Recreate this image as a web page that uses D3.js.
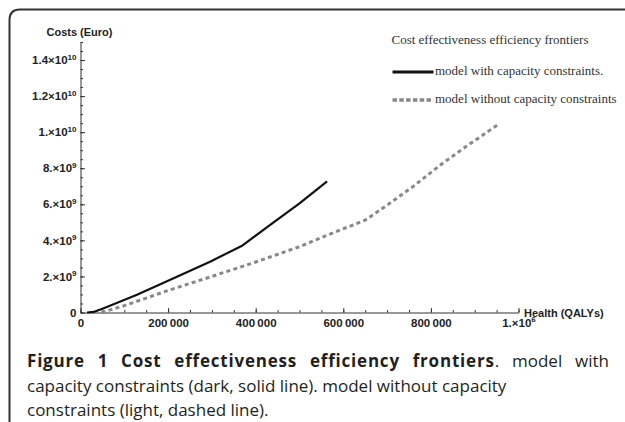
<!DOCTYPE html>
<html>
<head>
<meta charset="utf-8">
<script src="https://cdn.jsdelivr.net/npm/d3@7"></script>
<style>
  html, body { margin: 0; padding: 0; background: #fff; }
  svg { display: block; }
  .tick text { font-family: "Liberation Sans", Arial, sans-serif; font-weight: bold; font-size: 11.5px; fill: #222; }
  .axis path, .axis line { stroke: #333; }
</style>
</head>
<body>
<svg id="chart" width="625" height="422"></svg>
<script>
// health (QALYs) vs costs (Euro)
const withCapHealth = [15000, 30000, 53000, 129000, 205000, 297000, 370000, 430000, 500000, 563000];
const withCapCost = [0, 0.03e9, 0.24e9, 0.98e9, 1.81e9, 2.83e9, 3.72e9, 4.8e9, 6.05e9, 7.27e9];

const withoutCapHealth = [48000, 100000, 200000, 300000, 400000, 500000, 580000, 650000, 700000, 760000, 820000, 880000, 955000];
const withoutCapCost = [0, 0.38e9, 1.22e9, 2.0e9, 2.8e9, 3.65e9, 4.45e9, 5.12e9, 5.95e9, 7.0e9, 8.15e9, 9.2e9, 10.45e9];

const xMajorTicks = [0, 200000, 400000, 600000, 800000, 1000000];
const yMajorTicks = [0, 2e9, 4e9, 6e9, 8e9, 1e10, 1.2e10, 1.4e10];
const xMinorStep = 50000;
const yMinorStep = 5e8;

const legendTitle = "Cost effectiveness efficiency frontiers";
const seriesNames = ["model with capacity constraints.", "model without capacity constraints"];
const yTitle = "Costs (Euro)";
const xTitle = "Health (QALYs)";

// caption: words are lists of [text, bold]
const captionLine1 = [
  [["Figure", 1]], [["1", 1]], [["Cost", 1]], [["effectiveness", 1]], [["efficiency", 1]],
  [["frontiers", 1], [".", 0]], [["model", 0]], [["with", 0]]
];
const captionLine2 = "capacity constraints (dark, solid line). model without capacity";
const captionLine3 = "constraints (light, dashed line).";

const svg = d3.select("#chart");

// frame with rounded top-left corner
svg.append("path")
  .attr("d", "M9.5,422 L9.5,20 Q9.5,9.5 20,9.5 L625,9.5")
  .attr("fill", "none")
  .attr("stroke", "#333")
  .attr("stroke-width", 2);

const x = d3.scaleLinear().domain([0, 1e6]).range([80.5, 518.5]);
const y = d3.scaleLinear().domain([0, 1.5e10]).range([312.5, 42]);

function sciLabel(sel, v) {
  if (v === 0) { sel.text("0"); return; }
  const e = Math.floor(Math.log10(v) + 1e-9);
  const m = +(v / Math.pow(10, e)).toFixed(2);
  const ms = Number.isInteger(m) ? m + "." : String(m);
  sel.text(null);
  sel.append("tspan").text(ms + "\u00d7" + "10");
  sel.append("tspan").attr("dy", "-0.55em").attr("font-size", "8px").text(e);
}

// minor ticks
svg.append("g").attr("class", "axis")
  .attr("transform", `translate(0,${y(0)})`)
  .call(d3.axisBottom(x).tickValues(d3.range(0, 1e6 + 1, xMinorStep)).tickSize(-2.5).tickFormat(""))
  .call(g => g.select(".domain").remove());
svg.append("g").attr("class", "axis")
  .attr("transform", `translate(${x(0)},0)`)
  .call(d3.axisLeft(y).tickValues(d3.range(0, 1.5e10 + 1, yMinorStep)).tickSize(-2.5).tickFormat(""))
  .call(g => g.select(".domain").remove());

// x axis
const gx = svg.append("g").attr("class", "axis")
  .attr("transform", `translate(0,${y(0)})`)
  .call(d3.axisBottom(x).tickValues(xMajorTicks).tickSizeInner(-4.5).tickSizeOuter(0).tickPadding(6));
gx.selectAll(".tick text").each(function(d) {
  const t = d3.select(this);
  if (d >= 1e6) sciLabel(t, d);
  else t.text(d === 0 ? "0" : d3.format(",")(d).replace(/,/g, "\u2009"));
});

// y axis
const gy = svg.append("g").attr("class", "axis")
  .attr("transform", `translate(${x(0)},0)`)
  .call(d3.axisLeft(y).tickValues(yMajorTicks).tickSizeInner(-4.5).tickSizeOuter(0).tickPadding(4));
gy.selectAll(".tick text").each(function(d) { sciLabel(d3.select(this), d); });

svg.append("text")
  .attr("x", 46.5).attr("y", 35.5)
  .attr("font-family", "Liberation Sans, Arial, sans-serif")
  .attr("font-weight", "bold").attr("font-size", "11px").attr("fill", "#222")
  .text(yTitle);
svg.append("text")
  .attr("x", 524).attr("y", 317)
  .attr("font-family", "Liberation Sans, Arial, sans-serif")
  .attr("font-weight", "bold").attr("font-size", "11px").attr("fill", "#222")
  .text(xTitle);

// series
const line = d3.line().x(d => x(d[0])).y(d => y(d[1]));
const withCap = d3.zip(withCapHealth, withCapCost);
const withoutCap = d3.zip(withoutCapHealth, withoutCapCost);

svg.append("path").datum(withoutCap)
  .attr("d", line).attr("fill", "none")
  .attr("stroke", "#888").attr("stroke-width", 3)
  .attr("stroke-dasharray", "4,3.3");
svg.append("path").datum(withCap)
  .attr("d", line).attr("fill", "none")
  .attr("stroke", "#111").attr("stroke-width", 2.2)
  .attr("stroke-linejoin", "round");

// legend
const serif = "Liberation Serif, Times New Roman, serif";
svg.append("text").attr("x", 391.5).attr("y", 44)
  .attr("font-family", serif).attr("font-size", "13px").attr("fill", "#333")
  .text(legendTitle);
svg.append("line").attr("x1", 392.5).attr("x2", 433.5).attr("y1", 72).attr("y2", 72)
  .attr("stroke", "#111").attr("stroke-width", 3);
svg.append("line").attr("x1", 392.5).attr("x2", 433.5).attr("y1", 100).attr("y2", 100)
  .attr("stroke", "#888").attr("stroke-width", 3.5).attr("stroke-dasharray", "4.5,2.3");
seriesNames.forEach((s, i) => {
  svg.append("text").attr("x", 435).attr("y", 75 + i * 28)
    .attr("font-family", serif).attr("font-size", "13px").attr("fill", "#333")
    .text(s);
});

// caption
const capFont = "Open Sans, Noto Sans, sans-serif";
const capSize = "17px";
const capLeft = 27, capRight = 609;
const cap1 = svg.append("g");
const wordNodes = captionLine1.map(w => {
  const t = cap1.append("text").attr("y", 367)
    .attr("font-family", capFont).attr("font-size", capSize).attr("fill", "#231f20");
  w.forEach(seg => t.append("tspan")
    .attr("font-weight", seg[1] ? "bold" : "normal")
    .attr("letter-spacing", seg[1] ? "0.8px" : null)
    .text(seg[0]));
  return t;
});
const widths = wordNodes.map(t => t.node().getComputedTextLength());
const gap = (capRight - capLeft - d3.sum(widths)) / (widths.length - 1);
let cx = capLeft;
wordNodes.forEach((t, i) => { t.attr("x", cx); cx += widths[i] + gap; });

[captionLine2, captionLine3].forEach((s, i) => {
  svg.append("text").attr("x", capLeft).attr("y", 392 + i * 24)
    .attr("font-family", capFont).attr("font-size", capSize).attr("fill", "#231f20")
    .text(s);
});
</script>
</body>
</html>
